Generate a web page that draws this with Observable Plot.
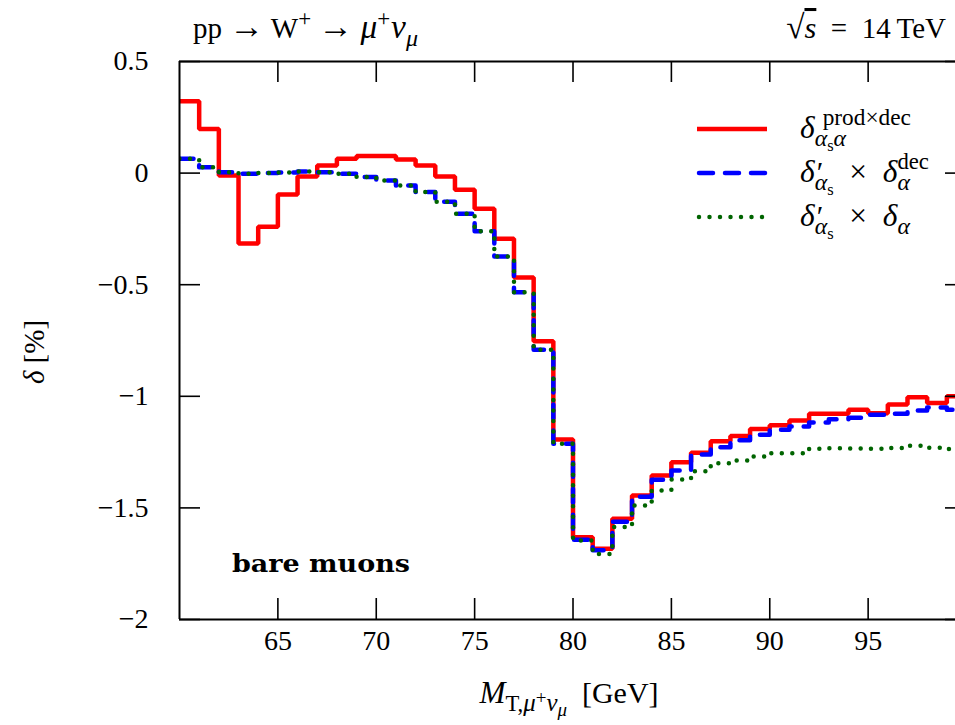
<!DOCTYPE html>
<html><head><meta charset="utf-8">
<script src="https://cdn.jsdelivr.net/npm/d3@7"></script>
<script src="https://cdn.jsdelivr.net/npm/@observablehq/plot@0.6"></script>
<style>
html,body{margin:0;padding:0;background:#fff;overflow:hidden;}
svg{display:block;}
</style></head><body><div id="chart"></div>
<script>
// ---- data ----
const binLo = [60,61,62,63,64,65,66,67,68,69,70,71,72,73,74,75,76,77,78,79,80,81,82,83,84,85,86,87,88,89,90,91,92,93,94,95,96,97,98,99];
const binHi = 100;
const prodDec = [0.322,0.198,-0.011,-0.315,-0.24,-0.096,-0.015,0.034,0.064,0.077,0.077,0.061,0.034,-0.015,-0.075,-0.16,-0.294,-0.468,-0.753,-1.194,-1.631,-1.683,-1.549,-1.445,-1.355,-1.295,-1.253,-1.201,-1.178,-1.146,-1.13,-1.108,-1.078,-1.078,-1.06,-1.076,-1.037,-1.004,-1.03,-1.0];
const factDec = [0.064,0.026,0.004,-0.003,0.0,0.003,0.007,0.004,-0.003,-0.018,-0.033,-0.056,-0.085,-0.128,-0.182,-0.26,-0.374,-0.534,-0.792,-1.213,-1.643,-1.69,-1.562,-1.45,-1.374,-1.332,-1.261,-1.228,-1.197,-1.172,-1.15,-1.135,-1.117,-1.103,-1.096,-1.083,-1.078,-1.064,-1.05,-1.06];
const factFull = [0.064,0.026,0.004,-0.003,0.0,0.003,0.007,0.004,-0.003,-0.018,-0.033,-0.056,-0.085,-0.128,-0.182,-0.26,-0.374,-0.534,-0.792,-1.213,-1.646,-1.706,-1.586,-1.489,-1.422,-1.373,-1.336,-1.30,-1.288,-1.27,-1.255,-1.255,-1.235,-1.233,-1.234,-1.235,-1.232,-1.222,-1.23,-1.236];
const xTicks = [65,70,75,80,85,90,95];
const yTicks = [-2,-1.5,-1,-0.5,0,0.5];
const yTickLabels = ["\u22122","\u22121.5","\u22121","\u22120.5","0","0.5"];

const RED = "#ff0000", BLUE = "#0000ff", GREEN = "#006400";
const FONT = "'Liberation Serif', 'DejaVu Serif', serif";

function steps(vals){
  const pts = binLo.map((x,i)=>({x, y: vals[i]}));
  pts.push({x: binHi, y: vals[vals.length-1]});
  return pts;
}

const W=955, H=725, ML=179, MR=0, MT=61, MB=106;
const PW = W-ML-MR, PH = H-MT-MB, TICK = 21;
const LW = 4.5;

const chart = Plot.plot({
  width: W, height: H, marginLeft: ML, marginRight: MR, marginTop: MT, marginBottom: MB,
  x: {domain: [60, 99.44], axis: null, label: null},
  y: {domain: [-2, 0.5], axis: null, label: null},
  style: {fontFamily: FONT, fontSize: "28px", background: "white", color: "black", overflow: "hidden"},
  marks: [
    Plot.line(steps(prodDec), {x: "x", y: "y", curve: "step-after", stroke: RED, strokeWidth: LW, strokeLinejoin: "miter", clip: true}),
    Plot.line(steps(factDec), {x: "x", y: "y", curve: "step-after", stroke: BLUE, strokeWidth: LW, strokeDasharray: "14,12", strokeLinecap: "round", clip: true}),
    Plot.line(steps(factFull), {x: "x", y: "y", curve: "step-after", stroke: GREEN, strokeWidth: LW, strokeDasharray: "0,10.5", strokeLinecap: "round", clip: true}),
    // frame
    Plot.ruleX([60], {stroke: "black", strokeWidth: 2}),
    Plot.ruleY([0.5, -2], {stroke: "black", strokeWidth: 2}),
    // inward ticks
    Plot.tickX(xTicks, {x: d => d, insetTop: PH - TICK, stroke: "black", strokeWidth: 1.6}),
    Plot.tickX(xTicks, {x: d => d, insetBottom: PH - TICK, stroke: "black", strokeWidth: 1.6}),
    Plot.tickY(yTicks, {y: d => d, insetRight: PW - TICK, stroke: "black", strokeWidth: 1.6}),
    Plot.tickY(yTicks, {y: d => d, insetLeft: PW - 10, stroke: "black", strokeWidth: 1.6}),
    Plot.axisX({ticks: xTicks, anchor: "bottom", tickSize: 0, tickPadding: 11, label: null, fontSize: 28, tickFormat: d => String(d)}),
    Plot.axisY({ticks: yTicks, anchor: "left", tickSize: 0, tickPadding: 31, label: null, fontSize: 28, tickFormat: d => yTickLabels[yTicks.indexOf(d)]})
  ]
});
document.getElementById("chart").appendChild(chart);

// ---- rich text helpers ----
const LEVELS = {
  base: {shift: 0, scale: 1},
  sup: {shift: -0.42, scale: 0.72},
  sub: {shift: 0.28, scale: 0.72},
  subsub: {shift: 0.42, scale: 0.55},
  subsup: {shift: 0.02, scale: 0.55}
};
const svg = d3.select(chart);
function richText({x, y, anchor = "start", size = 28, runs, rotate = 0, weight = "normal", family = FONT, textLength = null}) {
  const t = svg.append("text")
    .attr("font-family", family).attr("font-size", size).attr("text-anchor", anchor)
    .attr("font-weight", weight).attr("fill", "black")
    .attr("transform", `translate(${x},${y})` + (rotate ? ` rotate(${rotate})` : ""));
  if (textLength) t.attr("textLength", textLength).attr("lengthAdjust", "spacingAndGlyphs");
  let cur = 0;
  const spans = [];
  for (const r of runs) {
    const lv = LEVELS[r.l || "base"];
    const s = t.append("tspan").text(r.t)
      .attr("font-size", size * lv.scale * (r.s || 1))
      .attr("dy", ((lv.shift - cur) * size).toFixed(2));
    cur = lv.shift;
    if (r.i) s.attr("font-style", "italic");
    if (r.o) s.style("text-decoration", "overline");
    if (r.f) s.attr("font-family", r.f);
    spans.push({s, r});
  }
  let markIdx = 0;
  spans.forEach(({s, r}, i) => {
    if (r.mark) markIdx = i;
    let dx = r.dx || 0;
    if (r.back) {
      let w = 0;
      for (let j = markIdx; j < i; j++) w += spans[j].s.node().getComputedTextLength() + (spans[j].r.dx || 0);
      dx -= w;
    }
    if (dx) s.attr("dx", dx.toFixed(2));
  });
  return t;
}

// titles
richText({x: 193, y: 38, size: 29, runs: [
  {t: "pp "}, {t: "\u2192", s: 1.2}, {t: " W"}, {t: "+", l: "sup", s: 1.1}, {t: " "}, {t: "\u2192", s: 1.2}, {t: " "},
  {t: "\u03bc", i: 1, s: 1.15}, {t: "+", l: "sup", s: 1.1}, {t: "\u03bd", i: 1, s: 1.15, dx: 1}, {t: "\u03bc", l: "sub", i: 1, s: 1.15}
]});
richText({x: 946, y: 38, anchor: "end", size: 29, runs: [
  {t: "\u221a", s: 1.15}, {t: "s", i: 1, o: 1, s: 1.05}, {t: "\u2002=\u2002"}, {t: "14\u2009TeV"}
]});
// axis titles
richText({x: 569, y: 703, anchor: "middle", size: 30, runs: [
  {t: "M", i: 1, s: 1.04}, {t: "T,", l: "sub", s: 1.05}, {t: "\u03bc", l: "sub", i: 1, s: 1.15}, {t: "+", l: "subsup", s: 1.15},
  {t: "\u03bd", l: "sub", i: 1, s: 1.15}, {t: "\u03bc", l: "subsub", i: 1, s: 1.15}, {t: "\u2002[GeV]"}
]});
richText({x: 44, y: 352, anchor: "middle", size: 29, rotate: -90, runs: [
  {t: "\u03b4", i: 1}, {t: " [%]"}
]});
richText({x: 232, y: 572, size: 25, weight: "bold", family: "'DejaVu Serif', serif", textLength: 178, runs: [{t: "bare muons"}]});

// legend
const legendRows = [
  {y: 129, color: RED, dash: null, cap: "butt", runs: [
    {t: "\u03b4", i: 1, s: 1.05}, {t: "prod\u00d7dec", l: "sup", mark: 1, dx: 8, s: 1.08}, {t: "\u03b1", l: "sub", i: 1, back: 1, s: 1.1},
    {t: "s", l: "subsub"}, {t: "\u03b1", l: "sub", i: 1, s: 1.1}
  ]},
  {y: 173, color: BLUE, dash: "14,12", cap: "round", runs: [
    {t: "\u03b4", i: 1, s: 1.05}, {t: "\u2032", mark: 1, dx: 2}, {t: "\u03b1", l: "sub", i: 1, back: 1, s: 1.1}, {t: "s", l: "subsub"},
    {t: "\u2002\u00d7\u2002", s: 1.05}, {t: "\u03b4", i: 1, s: 1.05}, {t: "dec", l: "sup", mark: 1, s: 1.05}, {t: "\u03b1", l: "sub", i: 1, back: 1, s: 1.1}
  ]},
  {y: 217, color: GREEN, dash: "0,10.5", cap: "round", runs: [
    {t: "\u03b4", i: 1, s: 1.05}, {t: "\u2032", mark: 1, dx: 2}, {t: "\u03b1", l: "sub", i: 1, back: 1, s: 1.1}, {t: "s", l: "subsub"},
    {t: "\u2002\u00d7\u2002", s: 1.05}, {t: "\u03b4", i: 1, s: 1.05}, {t: "\u03b1", l: "sub", i: 1, s: 1.1}
  ]}
];
for (const row of legendRows) {
  const ln = svg.append("line").attr("x1", row.cap === "round" ? 699 : 697).attr("x2", 767)
    .attr("y1", row.y).attr("y2", row.y)
    .attr("stroke", row.color).attr("stroke-width", LW).attr("stroke-linecap", row.cap);
  if (row.dash) ln.attr("stroke-dasharray", row.dash);
  richText({x: 800, y: row.y + 9, size: 30, runs: row.runs});
}
</script>
</body></html>
